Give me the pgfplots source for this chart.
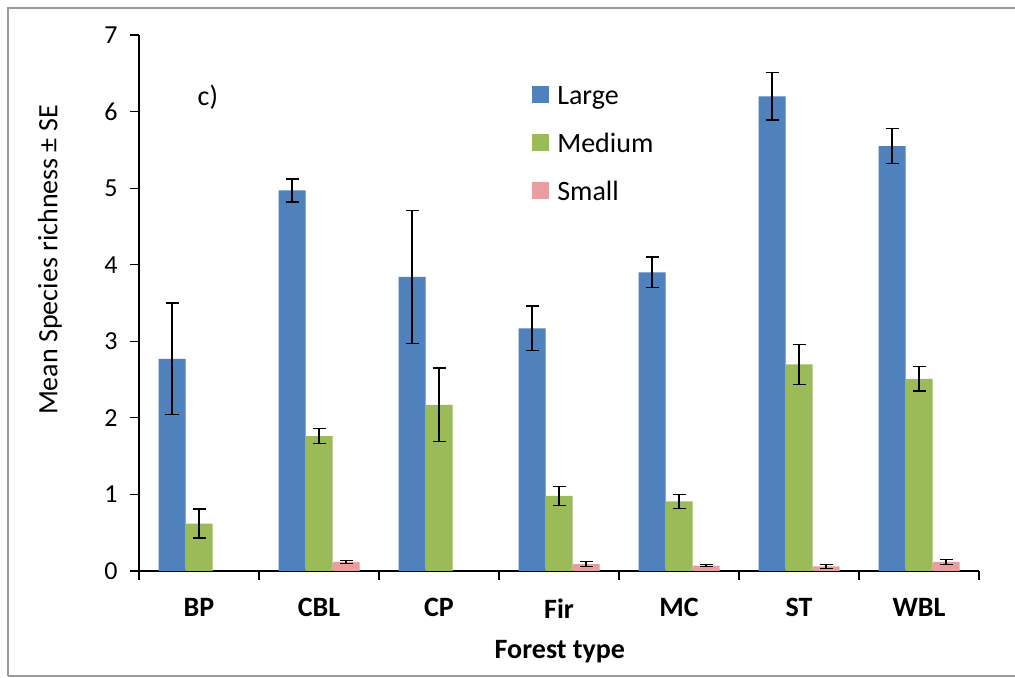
\documentclass[border=0pt]{standalone}
\usepackage{fontspec}
\setmainfont{Carlito}
\usepackage{pgfplots}
\pgfplotsset{compat=1.18}
\usepackage{pgfplotstable}
\definecolor{cLarge}{HTML}{4F81BD}
\definecolor{cMedium}{HTML}{9BBB59}
\definecolor{cSmall}{HTML}{E89E9E}
\definecolor{cFrame}{HTML}{9A9A9A}
\pgfplotstableread{
x y e
0 2.77 0.73
1 4.97 0.15
2 3.84 0.87
3 3.17 0.29
4 3.90 0.20
5 6.20 0.31
6 5.55 0.23
}\tblLarge
\pgfplotstableread{
x y e
0 0.62 0.19
1 1.76 0.10
2 2.17 0.48
3 0.98 0.12
4 0.91 0.09
5 2.70 0.26
6 2.51 0.16
}\tblMedium
\pgfplotstableread{
x y e
1 0.12 0.02
3 0.09 0.03
4 0.07 0.015
5 0.06 0.025
6 0.12 0.03
}\tblSmall
\newcommand{\fbig}{\fontsize{28bp}{34bp}\selectfont}
\newcommand{\ftick}{\fontsize{26bp}{31bp}\selectfont}
\begin{document}
\begin{tikzpicture}
\useasboundingbox (0,0) rectangle (1015bp,678bp);
\fill[white] (0,0) rectangle (1015bp,678bp);
\draw[cFrame, line width=2bp] (8bp,2bp) -- (8bp,670bp) -- (1015bp,670bp);
\draw[cFrame, line width=2bp] (8bp,2bp) -- (1015bp,2bp);
\begin{axis}[
  at={(139bp,107bp)}, anchor=south west,
  scale only axis, width=840bp, height=536bp,
  xmin=-0.5, xmax=6.5, ymin=0, ymax=7,
  axis x line*=bottom, axis y line*=left,
  axis line style={black, line width=1.1bp},
  ybar=0pt, bar width=27bp,
  ytick={0,1,...,7},
  xtick={-0.5,0.5,1.5,2.5,3.5,4.5,5.5,6.5}, xticklabels={},
  extra x ticks={0,1,2,3,4,5,6},
  extra x tick labels={BP,CBL,CP,Fir,MC,ST,WBL},
  extra x tick style={major tick length=0pt,
     xticklabel style={font=\bfseries\fontsize{28bp}{34bp}\selectfont, yshift=-24bp}},
  tick align=outside, major tick length=9bp,
  tick style={black, line width=1.1bp},
  /pgf/number format/assume math mode=true,
  yticklabel style={font=\ftick, xshift=-9bp},
  ylabel={Mean Species richness ± SE},
  every axis y label/.style={at={(axis description cs:-0.106,0.58)}, rotate=90, anchor=center, font=\fbig},
  xlabel={Forest type},
  every axis x label/.style={at={(axis description cs:0.501,-0.151)}, anchor=center, font=\fbig\bfseries},
  legend style={at={(axis description cs:0.468,0.920)}, anchor=north west, draw=none, fill=none,
     font=\fbig, row sep=10bp, column sep=4bp, inner sep=0pt,
     nodes={text height=22bp, text depth=8bp, inner sep=4bp}},
  legend cell align=left,
  legend image code/.code={\path[#1, draw=none] (0bp,-6bp) rectangle (17bp,11bp);},
  error bars/y dir=both, error bars/y explicit,
  error bars/error bar style={black, line width=1.2bp},
  error bars/error mark options={rotate=90, mark size=6.5bp, line width=1.2bp, black},
]
\addplot[fill=cLarge, draw=none] table[x=x, y=y, y error=e] {\tblLarge};
\addplot[fill=cMedium, draw=none] table[x=x, y=y, y error=e] {\tblMedium};
\addplot[fill=cSmall, draw=none] table[x=x, y=y, y error=e] {\tblSmall};
\legend{Large,Medium,Small}
\node[font=\fbig] at (axis description cs:0.082,0.884) {c)};
\end{axis}
\end{tikzpicture}
\end{document}
